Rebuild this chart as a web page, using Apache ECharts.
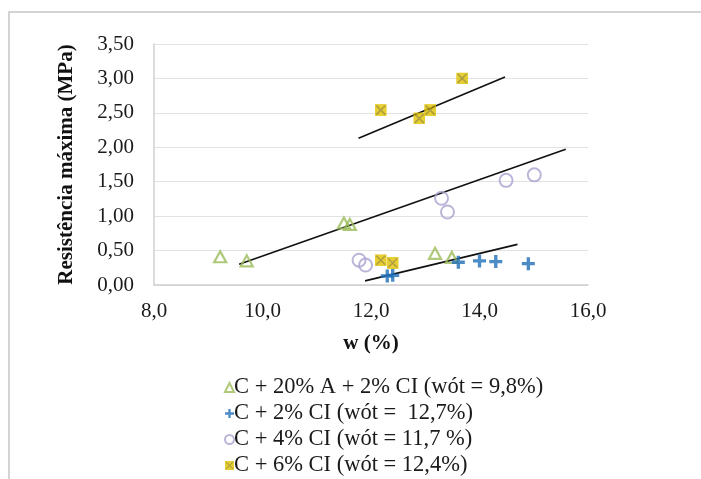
<!DOCTYPE html>
<html><head><meta charset="utf-8">
<script src="https://cdn.jsdelivr.net/npm/echarts@6/dist/echarts.min.js"></script>
<style>html,body{margin:0;padding:0;background:#fff}#c{width:701px;height:479px}</style>
</head><body><div id="c"></div>
<script>
var seriesNames = ['C + 20% A + 2% CI (wót = 9,8%)','C + 2% CI (wót =  12,7%)','C + 4% CI (wót = 11,7 %)','C + 6% CI (wót = 12,4%)'];
var triX = [9.22, 9.71, 11.50, 11.61, 13.18, 13.49];
var triY = [0.41, 0.35, 0.90, 0.88, 0.46, 0.40];
var plusX = [12.30, 12.40, 13.61, 14.00, 14.30, 14.90];
var plusY = [0.13, 0.14, 0.33, 0.35, 0.34, 0.31];
var circX = [11.78, 11.90, 13.30, 13.41, 14.49, 15.01];
var circY = [0.36, 0.29, 1.26, 1.06, 1.52, 1.60];
var xsqX = [12.18, 12.89, 13.09, 13.68, 12.18, 12.40];
var xsqY = [2.54, 2.42, 2.54, 3.00, 0.36, 0.32];
var trendUpperX = [11.77, 14.47], trendUpperY = [2.13, 3.02];
var trendMidX = [9.57, 15.59], trendMidY = [0.30, 1.97];
var trendLowX = [11.89, 14.70], trendLowY = [0.06, 0.59];
var xTicks = [8, 10, 12, 14, 16];

function pairs(xs, ys){ return xs.map(function(x,i){return [x, ys[i]];}); }
var xsqSvg = "<svg xmlns='http://www.w3.org/2000/svg' width='12' height='12' viewBox='0 0 12 12'><rect x='0' y='0' width='12' height='12' fill='#E2C400'/><path d='M1.5 1.5L10.5 10.5M10.5 1.5L1.5 10.5' stroke='#9C8A10' stroke-width='1.6'/></svg>";
var xsqSymbol = 'image://data:image/svg+xml;charset=utf-8,' + encodeURIComponent(xsqSvg);
var plusSymbol = 'path://M3.7,0H6.3V3.7H10V6.3H6.3V10H3.7V6.3H0V3.7H3.7Z';
var serif = '"Liberation Serif", "DejaVu Serif", serif';
function trend(xs, ys){
  return {type:'line', data: pairs(xs, ys), symbol:'none', silent:true, z:1,
    lineStyle:{color:'#111', width:1.6}, itemStyle:{color:'#111'}};
}
var chart = echarts.init(document.getElementById('c'), null, {renderer:'canvas'});
chart.setOption({
  backgroundColor:'#fff',
  animation:false,
  graphic:[{type:'rect', shape:{x:9, y:12, width:720, height:500}, style:{fill:'none', stroke:'#d4d4d4', lineWidth:2}}],
  grid:{left:154, right:113, top:44, bottom:194},
  xAxis:{type:'value', min:8, max:16, interval:2,
    name:'w (%)', nameLocation:'middle', nameGap:48,
    nameTextStyle:{fontFamily:serif, fontWeight:'bold', fontSize:21, color:'#111'},
    axisLine:{show:true, lineStyle:{color:'#d0d0d0', width:1.5}},
    axisTick:{show:false}, splitLine:{show:false},
    axisLabel:{margin:16, fontFamily:serif, fontSize:21, color:'#1a1a1a',
      formatter:function(v){ return xTicks.indexOf(v) >= 0 ? v.toFixed(1).replace('.', ',') : ''; }}},
  yAxis:{type:'value', min:0, max:3.5, interval:0.5,
    name:'Resistência máxima (MPa)', nameLocation:'middle', nameGap:77,
    nameTextStyle:{fontFamily:serif, fontWeight:'bold', fontSize:21, color:'#111'},
    axisLine:{show:true, lineStyle:{color:'#d0d0d0', width:1.5}},
    axisTick:{show:false},
    splitLine:{show:true, lineStyle:{color:'#e2e2e2', width:1.2}},
    axisLabel:{margin:20, fontFamily:serif, fontSize:21, color:'#1a1a1a',
      formatter:function(v){ return v.toFixed(2).replace('.', ','); }}},
  legend:{orient:'vertical', left:219, top:371, height:160, itemGap:3, itemWidth:9, itemHeight:9,
    textStyle:{fontFamily:serif, fontSize:22.5, color:'#1a1a1a', padding:[0,0,0,-5]},
    data: seriesNames},
  series:[
    trend(trendUpperX, trendUpperY),
    trend(trendMidX, trendMidY),
    trend(trendLowX, trendLowY),
    {name:seriesNames[0], type:'scatter', data:pairs(triX, triY), symbol:'triangle', symbolSize:[12,11], z:3,
      itemStyle:{color:'rgba(255,255,255,0)', borderColor:'#9BBB59', borderWidth:2.2}},
    {name:seriesNames[1], type:'scatter', data:pairs(plusX, plusY), symbol:plusSymbol, symbolSize:13, z:3,
      itemStyle:{color:'#1F6FB8'}},
    {name:seriesNames[2], type:'scatter', data:pairs(circX, circY), symbol:'circle', symbolSize:13, z:3,
      itemStyle:{color:'rgba(255,255,255,0)', borderColor:'#ADA3CF', borderWidth:2}},
    {name:seriesNames[3], type:'scatter', data:pairs(xsqX, xsqY), symbol:xsqSymbol, symbolSize:12, z:3}
  ]
});
</script></body></html>
